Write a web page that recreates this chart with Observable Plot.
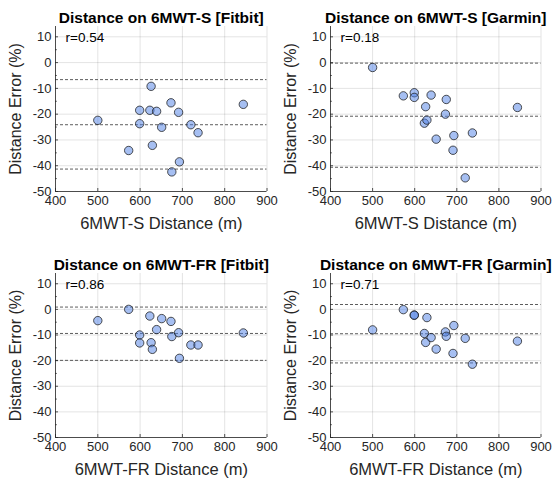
<!DOCTYPE html>
<html>
<head>
<meta charset="utf-8">
<script src="https://cdn.jsdelivr.net/npm/d3@7"></script>
<script src="https://cdn.jsdelivr.net/npm/@observablehq/plot@0.6"></script>
<style>
  html, body { margin: 0; padding: 0; background: #fff; }
  #wrap { position: relative; width: 554px; height: 484px; overflow: hidden; }
  #wrap > svg { position: absolute; }
</style>
</head>
<body>
<div id="wrap"></div>
<script>
// Shared x values (reference walking distance, m)
const distance = [500, 573, 599, 599, 623, 626, 629, 639, 651, 673, 675, 691, 693, 720, 737, 844];

// Distance error (%) per panel, same order as distance
const fitbitS  = [-22.4, -34.1, -18.5, -23.7, -18.5, -9.2, -32.1, -18.9, -25.1, -15.6, -42.4, -19.3, -38.5, -24.1, -27.2, -16.2];
const garminS  = [-1.9, -12.9, -11.7, -13.5, -23.5, -17.1, -22.3, -12.6, -29.7, -20.0, -14.3, -34.0, -28.3, -44.7, -27.3, -17.4];
const fitbitFR = [-4.4, 0.0, -10.0, -13.1, -2.6, -13.0, -15.6, -7.9, -3.6, -4.7, -10.6, -9.1, -19.1, -13.9, -13.9, -9.2];
const garminFR = [-8.0, -0.1, -2.2, -2.3, -9.4, -12.9, -3.2, -11.0, -15.5, -8.8, -10.5, -17.2, -6.3, -11.3, -21.4, -12.4];

// Bias and limits of agreement (upper, mean, lower)
const biasFitbitS  = [-6.6, -24.1, -41.3];
const biasGarminS  = [-0.2, -20.8, -40.6];
const biasFitbitFR = [0.9, -9.4, -19.9];
const biasGarminFR = [1.9, -9.5, -20.9];

// Titles, labels, correlations
const titles = ["Distance on 6MWT-S [Fitbit]", "Distance on 6MWT-S [Garmin]", "Distance on 6MWT-FR [Fitbit]", "Distance on 6MWT-FR [Garmin]"];
const xLabels = ["6MWT-S Distance (m)", "6MWT-S Distance (m)", "6MWT-FR Distance (m)", "6MWT-FR Distance (m)"];
const yLabel = "Distance Error (%)";
const rTexts = ["r=0.54", "r=0.18", "r=0.86", "r=0.71"];

// Axis ticks
const xTicks = [400, 500, 600, 700, 800, 900];
const yTicks = [-50, -40, -30, -20, -10, 0, 10];
const yMinor = [-45, -35, -25, -15, -5, 5];
const xDomain = [400, 900];
const yDomain = [-50, 14];

const FONT = "'Liberation Sans', Arial, Helvetica, sans-serif";
const W = 277, H = 242;

const panels = [
  {errors: fitbitS,  bias: biasFitbitS,  left: 0,   top: 0,   ml: 55, mr: 10.5, mt: 26, mb: 51},
  {errors: garminS,  bias: biasGarminS,  left: 277, top: 0,   ml: 53, mr: 13.5, mt: 26, mb: 51},
  {errors: fitbitFR, bias: biasFitbitFR, left: 0,   top: 242, ml: 55, mr: 10.5, mt: 31, mb: 47},
  {errors: garminFR, bias: biasGarminFR, left: 277, top: 242, ml: 53, mr: 13.5, mt: 31, mb: 47}
];

const wrap = document.getElementById("wrap");

panels.forEach((p, k) => {
  const data = distance.map((d, i) => ({x: d, y: p.errors[i]}));
  const pw = W - p.ml - p.mr;
  const ph = H - p.mt - p.mb;
  const chart = Plot.plot({
    width: W,
    height: H,
    marginLeft: p.ml,
    marginRight: p.mr,
    marginTop: p.mt,
    marginBottom: p.mb,
    style: {fontFamily: FONT, background: "transparent", overflow: "visible"},
    x: {domain: xDomain, ticks: xTicks, label: null},
    y: {domain: yDomain, ticks: yTicks, label: null},
    marks: [
      Plot.gridX(xTicks, {stroke: "#000", strokeOpacity: 0.11, strokeWidth: 1}),
      Plot.gridY(yTicks, {stroke: "#000", strokeOpacity: 0.11, strokeWidth: 1}),
      Plot.ruleY(p.bias, {stroke: "#333", strokeWidth: 0.8, strokeDasharray: "3,2"}),
      Plot.dot(data, {x: "x", y: "y", r: 4.2, fill: "#4d80e6", fillOpacity: 0.5, stroke: "#1a1a1a", strokeWidth: 0.75}),
      // axis lines
      Plot.ruleX([xDomain[0]], {stroke: "#262626", strokeWidth: 0.8}),
      Plot.ruleY([yDomain[0]], {stroke: "#262626", strokeWidth: 0.8}),
      // inward ticks
      Plot.tickY(yTicks, {y: d => d, stroke: "#262626", strokeWidth: 0.8, insetRight: pw - 3}),
      Plot.tickY(yMinor, {y: d => d, stroke: "#262626", strokeWidth: 0.8, insetRight: pw - 1.8}),
      Plot.tickX(xTicks, {x: d => d, stroke: "#262626", strokeWidth: 0.8, insetTop: ph - 3}),
      // tick labels
      Plot.axisX({ticks: xTicks, tickSize: 0, tickPadding: 4, fontSize: 13, fill: "#262626", label: null, tickFormat: d => String(d)}),
      Plot.axisY({ticks: yTicks, tickSize: 0, tickPadding: 4, fontSize: 13, fill: "#262626", label: null, tickFormat: d => String(d)}),
      // titles and labels
      Plot.text([titles[k]], {frameAnchor: "top", textAnchor: "middle", lineAnchor: "bottom", dy: -4, fontSize: 15.5, fontWeight: "bold", fill: "#000"}),
      Plot.text([xLabels[k]], {frameAnchor: "bottom", textAnchor: "middle", lineAnchor: "bottom", dy: 37, fontSize: 16.5, fill: "#262626"}),
      Plot.text([yLabel], {frameAnchor: "left", textAnchor: "middle", rotate: -90, lineAnchor: "bottom", dx: -35, fontSize: 16, fill: "#262626"}),
      Plot.text([rTexts[k]], {frameAnchor: "top-left", textAnchor: "start", lineAnchor: "middle", dx: 10, dy: 11, fontSize: 13.5, fill: "#000"})
    ]
  });
  chart.style.left = p.left + "px";
  chart.style.top = p.top + "px";
  wrap.appendChild(chart);
});
</script>
</body>
</html>
